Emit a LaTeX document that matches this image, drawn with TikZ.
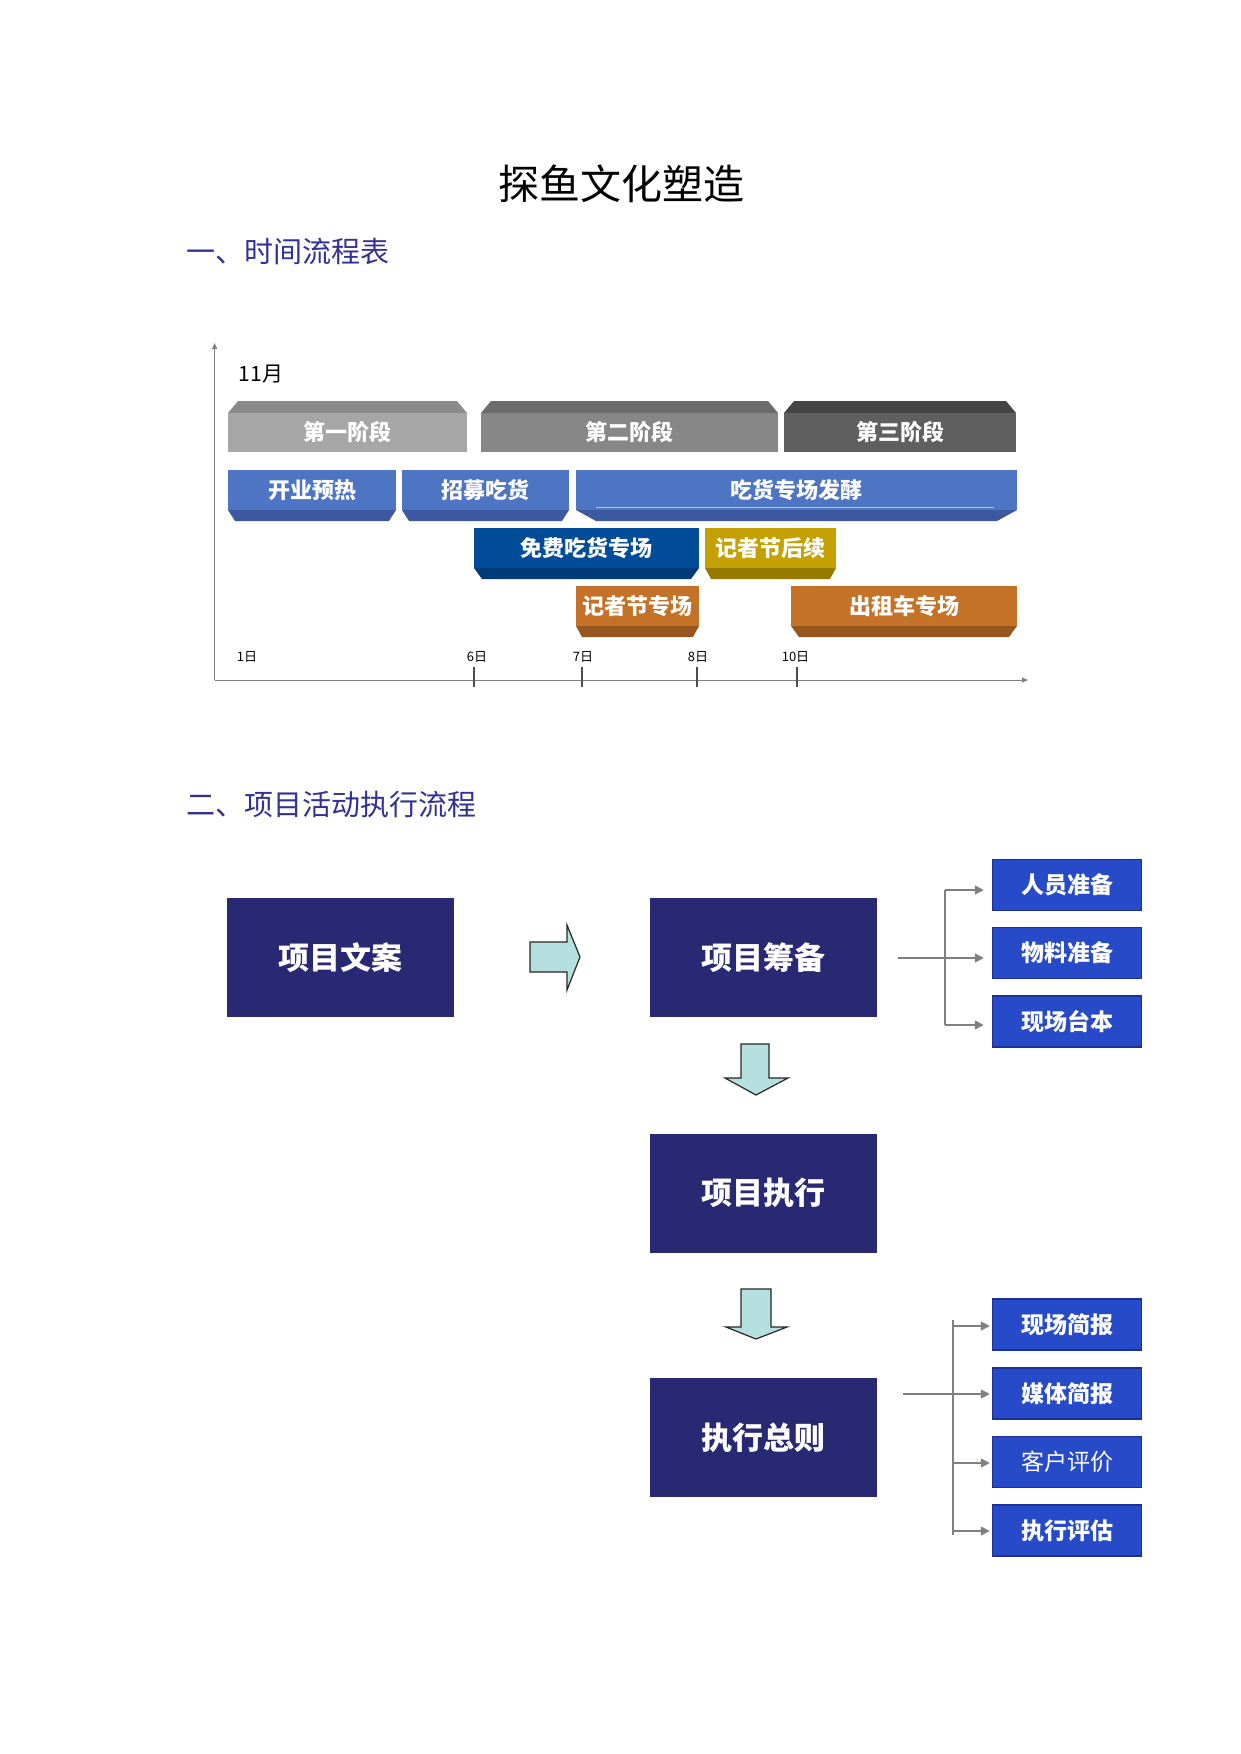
\documentclass[tikz,border=0pt]{standalone}
\usepackage{fontspec}
\setmainfont{Noto Sans CJK SC}
\usetikzlibrary{arrows.meta}
\definecolor{headc}{RGB}{50,50,150}
\definecolor{ph1t}{RGB}{138,138,138}
\definecolor{ph1}{RGB}{166,166,166}
\definecolor{ph2t}{RGB}{108,108,108}
\definecolor{ph2}{RGB}{135,135,135}
\definecolor{ph3t}{RGB}{68,68,68}
\definecolor{ph3}{RGB}{95,95,95}
\definecolor{blub}{RGB}{78,116,196}
\definecolor{blue}{RGB}{60,88,158}
\definecolor{navb}{RGB}{0,76,153}
\definecolor{nave}{RGB}{0,58,120}
\definecolor{goldb}{RGB}{196,160,0}
\definecolor{golde}{RGB}{150,122,0}
\definecolor{orgb}{RGB}{196,114,40}
\definecolor{orge}{RGB}{150,86,30}
\definecolor{mainbox}{RGB}{41,40,115}
\definecolor{smallbox}{RGB}{38,74,200}
\definecolor{smalledge}{RGB}{28,48,150}
\definecolor{linegray}{RGB}{128,128,128}
\definecolor{arrowfill}{RGB}{182,223,224}
\newcommand{\phasebar}[6]{%
  \fill[#4] (#2,413) -- (#2+10,401) -- (#3-10,401) -- (#3,413) -- cycle;
  \fill[#5] (#2,413) rectangle (#3,452);
  \node[bartext] (#1) at ({(#2+#3)/2},432.5) {#6};
}
\newcommand{\taskbar}[8]{%
  \fill[#7] (#2,#4+40) -- (#3,#4+40) -- (#3-#5,#4+51) -- (#2+#5,#4+51) -- cycle;
  \fill[#6] (#2,#4) rectangle (#3,#4+40);
  \node[bartext] (#1) at ({(#2+#3)/2},#4+20) {#8};
}
\begin{document}
\begin{tikzpicture}[x=1pt,y=-1pt,
  bartext/.style={text=white,font=\bfseries\fontsize{22}{26}\selectfont,inner sep=0pt},
  mainnode/.style={fill=mainbox,text=white,font=\bfseries\fontsize{31}{36}\selectfont,
    minimum width=227pt,minimum height=119pt,inner sep=0pt},
  subnode/.style={fill=smallbox,draw=smalledge,line width=1.5pt,text=white,
    font=\bfseries\fontsize{23}{27}\selectfont,minimum width=149pt,minimum height=51pt,inner sep=0pt},
  heading/.style={text=headc,font=\fontsize{29}{34}\selectfont,anchor=west,inner sep=0pt},
  dayl/.style={font=\fontsize{13}{15}\selectfont,inner sep=0pt},
  gline/.style={draw=linegray,line width=1.5pt},
  garrow/.style={draw=linegray,line width=1.5pt,-{Triangle[length=9pt,width=9pt]}},
  axisl/.style={draw=linegray,line width=1pt,-{Triangle[length=6pt,width=5pt]}},
  tick/.style={draw=black!70,line width=1.2pt},
  blockarrow/.style={fill=arrowfill,draw=black!85,line width=1.2pt,line join=miter}
]
\useasboundingbox (0,0) rectangle (1241,1754);

% titles
\node[font=\fontsize{41}{48}\selectfont,inner sep=0pt] (title) at (621,183.5) {探鱼文化塑造};
\node[heading] (h1) at (186,251) {一、时间流程表};
\node[heading] (h2) at (186,804) {二、项目活动执行流程};

% timeline axes
\coordinate (origin) at (214.6,680);
\coordinate (ytop) at (214.6,343);
\coordinate (xend) at (1028,680);
\draw[axisl] (origin) -- (ytop);
\draw[axisl] (origin) -- (xend);
\node[font=\fontsize{21}{25}\selectfont,inner sep=0pt] (month) at (261,374) {11月};

% phase bars
\phasebar{p1}{228}{467}{ph1t}{ph1}{第一阶段}
\phasebar{p2}{481}{778}{ph2t}{ph2}{第二阶段}
\phasebar{p3}{784}{1016}{ph3t}{ph3}{第三阶段}

% task bars
\taskbar{t1}{228}{396}{470}{7}{blub}{blue}{开业预热}
\taskbar{t2}{402}{569}{470}{7}{blub}{blue}{招募吃货}
\taskbar{t3}{576}{1017}{470}{20}{blub}{blue}{吃货专场发酵}
\draw[white!60!blub,line width=1pt] (596,507) -- (994,507);
\taskbar{t4}{474}{699}{528}{8}{navb}{nave}{免费吃货专场}
\taskbar{t5}{705}{836}{528}{6}{goldb}{golde}{记者节后续}
\taskbar{t6}{576}{699}{586}{6}{orgb}{orge}{记者节专场}
\taskbar{t7}{791}{1017}{586}{8}{orgb}{orge}{出租车专场}

% day labels and ticks
\node[dayl] (d1) at (247,657) {1日};
\node[dayl] (d6) at (477,657) {6日};
\node[dayl] (d7) at (583,657) {7日};
\node[dayl] (d8) at (698,657) {8日};
\node[dayl] (d10) at (795.5,657) {10日};
\draw[tick] (474,667) -- (474,687);
\draw[tick] (582,667) -- (582,687);
\draw[tick] (697,667) -- (697,687);
\draw[tick] (797,667) -- (797,687);

% flow boxes
\node[mainnode] (wa) at (340,957.5) {项目文案};
\node[mainnode] (cb) at (763.5,957.5) {项目筹备};
\node[mainnode] (zx) at (763.5,1193) {项目执行};
\node[mainnode] (zz) at (763.5,1437.5) {执行总则};

\node[subnode] (s1) at (1067,885) {人员准备};
\node[subnode] (s2) at (1067,953) {物料准备};
\node[subnode] (s3) at (1067,1021.5) {现场台本};

\node[subnode] (r1) at (1067,1324.5) {现场简报};
\node[subnode] (r2) at (1067,1393.5) {媒体简报};
\node[subnode,font=\fontsize{23}{27}\selectfont] (r3) at (1067,1462) {客户评价};
\node[subnode] (r4) at (1067,1530.5) {执行评估};

% block arrows
\draw[blockarrow] (530,942) -- (567,942) -- (567,925) -- (580,957) -- (567,990) -- (567,972) -- (530,972) -- cycle;
\draw[blockarrow] (741,1044) -- (769,1044) -- (769,1078) -- (788,1078) -- (756,1095) -- (725,1078) -- (741,1078) -- cycle;
\draw[blockarrow] (741,1289) -- (771,1289) -- (771,1327) -- (787,1327) -- (756,1339) -- (726,1327) -- (741,1327) -- cycle;

% connectors group 1
\coordinate (g1s) at (898,958);
\coordinate (g1t) at (945,890);
\coordinate (g1b) at (945,1025);
\draw[gline] (g1t) -- (g1b);
\draw[garrow,shorten >=8pt] (g1s) -- (g1s -| s2.west);
\draw[garrow,shorten >=8pt] (g1t) -- (g1t -| s1.west);
\draw[garrow,shorten >=8pt] (g1b) -- (g1b -| s3.west);

% connectors group 2
\coordinate (g2s) at (903,1394);
\coordinate (g2t) at (953,1320);
\coordinate (g2b) at (953,1535);
\coordinate (g2a) at (953,1326);
\coordinate (g2c) at (953,1463);
\coordinate (g2d) at (953,1531);
\draw[gline] (g2t) -- (g2b);
\draw[garrow,shorten >=2pt] (g2s) -- (g2s -| r2.west);
\draw[garrow,shorten >=2pt] (g2a) -- (g2a -| r1.west);
\draw[garrow,shorten >=2pt] (g2c) -- (g2c -| r3.west);
\draw[garrow,shorten >=2pt] (g2d) -- (g2d -| r4.west);
\end{tikzpicture}
\end{document}
